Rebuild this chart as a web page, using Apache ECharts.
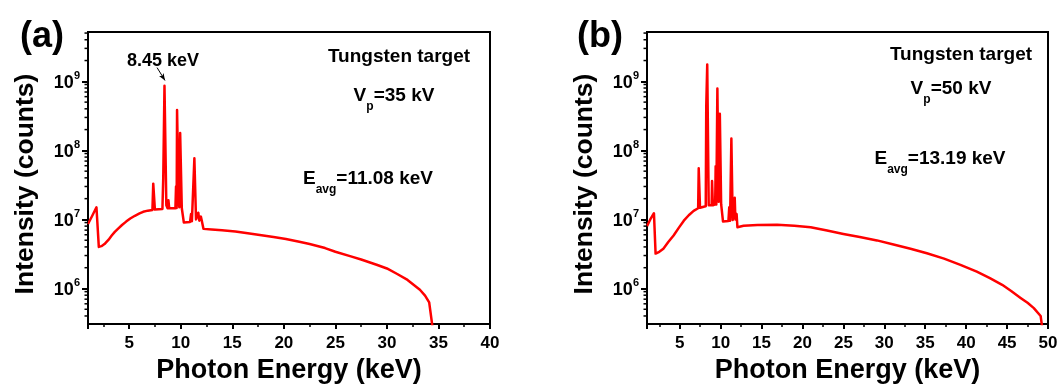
<!DOCTYPE html>
<html><head><meta charset="utf-8">
<script src="https://cdn.jsdelivr.net/npm/echarts@6/dist/echarts.min.js"></script>
<style>html,body{margin:0;padding:0;background:#fff}#c{width:1062px;height:389px}</style>
</head><body><div id="c"></div>
<script>
// Panel (a): 35 kV spectrum
const energyA = [1.0,1.4,1.82,2.05,2.3,2.6,3.0,3.3,3.6,3.9,4.3,4.7,5.1,5.55,6.0,6.35,6.8,7.25,7.33,7.41,7.49,8.22,8.3,8.38,8.42,8.52,8.6,8.72,8.8,8.88,9.48,9.54,9.6,9.64,9.72,9.8,9.86,9.94,10.02,10.1,10.2,10.3,10.9,11.0,11.08,11.24,11.32,11.4,11.48,11.6,11.7,11.8,11.95,12.05,12.2,13.0,14.0,15.3,16.5,17.5,19.0,20.2,21.5,22.5,24.0,25.0,26.5,27.5,29.0,30.0,31.0,32.0,33.2,33.7,34.1,34.55];
const countsA = [8.6e6,1.12e7,1.5e7,4.0e6,4.1e6,4.4e6,5.1e6,5.85e6,6.6e6,7.3e6,8.3e6,9.3e6,1.03e7,1.13e7,1.22e7,1.29e7,1.34e7,1.37e7,3.3e7,3.2e7,1.39e7,1.42e7,4.0e7,3.8e7,8.6e8,8.4e8,1.6e7,1.45e7,1.9e7,1.45e7,1.45e7,3.0e7,1.46e7,3.85e8,3.7e8,1.8e7,1.5e7,1.79e8,1.7e8,1.45e7,1.44e7,9.0e6,9.2e6,1.2e7,9.4e6,9.5e6,7.7e7,7.4e7,1.0e7,1.0e7,1.25e7,9.6e6,1.1e7,9.4e6,7.3e6,7.15e6,6.95e6,6.7e6,6.3e6,6.0e6,5.57e6,5.2e6,4.75e6,4.4e6,3.85e6,3.4e6,2.92e6,2.63e6,2.21e6,1.95e6,1.62e6,1.33e6,9.6e5,7.9e5,6.3e5,2.0e5];
// Panel (b): 50 kV spectrum
const energyB = [1.0,1.4,1.85,2.05,2.5,3.0,3.6,4.25,4.9,5.5,6.1,6.7,7.25,7.32,7.4,7.48,7.93,8.18,8.24,8.32,8.36,8.46,8.54,8.9,8.95,9.05,9.33,9.39,9.47,9.6,9.68,9.76,9.9,9.98,10.06,10.2,10.29,10.95,11.05,11.15,11.27,11.31,11.39,11.47,11.65,11.72,11.8,11.95,12.05,12.8,14.5,16.9,19.0,21.0,23.0,25.0,27.0,29.1,31.0,33.2,35.2,37.3,39.3,41.3,42.9,44.4,45.5,46.65,47.5,48.27,49.1,49.45];
const countsB = [8.0e6,1.0e7,1.23e7,3.2e6,3.4e6,3.77e6,4.7e6,5.85e6,7.6e6,9.6e6,1.15e7,1.33e7,1.45e7,5.5e7,5.3e7,1.48e7,1.53e7,1.55e7,4.4e8,4.3e8,1.75e9,1.7e9,1.6e7,1.6e7,3.6e7,1.6e7,1.65e7,5.9e7,1.65e7,7.9e8,7.7e8,1.8e7,3.4e8,3.3e8,1.66e7,1.66e7,9.3e6,9.5e6,1.5e7,9.6e6,9.6e6,1.48e8,1.45e8,9.8e6,1.0e7,2.06e7,1.0e7,1.2e7,7.7e6,8.1e6,8.3e6,8.4e6,8.1e6,7.7e6,6.9e6,6.17e6,5.55e6,4.97e6,4.37e6,3.77e6,3.24e6,2.71e6,2.2e6,1.75e6,1.41e6,1.13e6,9.2e5,7.3e5,6.2e5,5.2e5,4.0e5,2.0e5];
// Axis ranges
const xRangeA = [1, 40];
const xRangeB = [1, 50];
const yRange = [3.06e5, 5.18e9];
// Log minor tick values on the intensity axis
const yMinorTicks = [4e5,5e5,6e5,7e5,8e5,9e5,2e6,3e6,4e6,5e6,6e6,7e6,8e6,9e6,2e7,3e7,4e7,5e7,6e7,7e7,8e7,9e7,2e8,3e8,4e8,5e8,6e8,7e8,8e8,9e8,2e9,3e9,4e9,5e9];
// Texts
const panelLabels = ['(a)', '(b)'];
const targetText = 'Tungsten target';
const voltages = ['35 kV', '50 kV'];
const avgEnergies = ['11.08 keV', '13.19 keV'];
const peakLabel = '8.45 keV';
const peakArrow = [[7.7, 1.58e9], [8.47, 1.03e9]];
const xTitle = 'Photon Energy (keV)';
const yTitle = 'Intensity (counts)';

const FF = '"Liberation Sans", Arial, Helvetica, sans-serif';
const chart = echarts.init(document.getElementById('c'), null, {renderer: 'canvas'});

function xAxisCfg(idx, range, split) {
  return {
    type: 'value', gridIndex: idx, min: range[0], max: range[1], splitNumber: split,
    name: xTitle, nameLocation: 'middle', nameGap: 33,
    nameTextStyle: {fontFamily: FF, fontWeight: 'bold', fontSize: 27, color: '#000'},
    axisLine: {show: true, onZero: false, lineStyle: {color: '#000', width: 2}},
    axisTick: {show: true, inside: false, length: 5, lineStyle: {color: '#000', width: 2}},
    minorTick: {show: true, splitNumber: 2, length: 3, lineStyle: {color: '#000', width: 1.5}},
    axisLabel: {fontFamily: FF, fontWeight: 'bold', fontSize: 17, color: '#000', margin: 11, showMinLabel: false},
    splitLine: {show: false}
  };
}
function yAxisCfg(idx) {
  return {
    type: 'log', logBase: 10, gridIndex: idx, min: yRange[0], max: yRange[1],
    name: yTitle, nameLocation: 'middle', nameGap: 49,
    nameTextStyle: {fontFamily: FF, fontWeight: 'bold', fontSize: 26.5, color: '#000', padding: [0, 12, 0, 0]},
    axisLine: {show: true, lineStyle: {color: '#000', width: 2}},
    axisTick: {show: true, inside: false, length: 6, lineStyle: {color: '#000', width: 2}},
    minorTick: {show: false},
    splitLine: {show: false},
    axisLabel: {
      margin: 8, showMinLabel: false, showMaxLabel: false,
      formatter: function (v) {
        const l = Math.log10(v), e = Math.round(l);
        return Math.abs(l - e) < 1e-6 ? '{b|10}{s|' + e + '}' : '';
      },
      rich: {
        b: {fontFamily: FF, fontWeight: 'bold', fontSize: 18, color: '#000', lineHeight: 22, verticalAlign: 'bottom'},
        s: {fontFamily: FF, fontWeight: 'bold', fontSize: 11, color: '#000', lineHeight: 12, verticalAlign: 'top'}
      }
    }
  };
}
function minorTickSeries(idx, xmin) {
  return {
    type: 'custom', xAxisIndex: idx, yAxisIndex: idx, silent: true, clip: false, z: 5,
    data: yMinorTicks.map(v => [xmin, v]),
    encode: {x: 0, y: 1},
    renderItem: function (params, api) {
      const p = api.coord([api.value(0), api.value(1)]);
      return {type: 'line', shape: {x1: p[0] - 3.5, y1: p[1], x2: p[0], y2: p[1]}, style: {stroke: '#000', lineWidth: 1.5}};
    }
  };
}
function richSub(main, sub, rest) {
  return '{m|' + main + '}{s|' + sub + '}{m|' + rest + '}';
}
const subRich = {
  m: {fontFamily: FF, fontWeight: 'bold', fontSize: 19, fill: '#000', lineHeight: 20, verticalAlign: 'top'},
  s: {fontFamily: FF, fontWeight: 'bold', fontSize: 12, fill: '#000', lineHeight: 12, padding: [15, 0, 0, 0], verticalAlign: 'top'}
};
function txt(x, y, text, size, align) {
  return {type: 'text', x: x, y: y, silent: true,
    style: {text: text, font: 'bold ' + size + 'px ' + FF, fill: '#000', textAlign: align || 'center', textVerticalAlign: 'middle'}};
}
function subTxt(x, y, text) {
  return {type: 'text', x: x, y: y, silent: true,
    style: {text: text, rich: subRich, textAlign: 'center', textVerticalAlign: 'top', fill: '#000'}};
}
function spectrum(idx, xs, ys) {
  return {
    type: 'line', xAxisIndex: idx, yAxisIndex: idx, showSymbol: false, clip: true,
    data: xs.map((e, i) => [e, ys[i]]),
    lineStyle: {color: '#ff0000', width: 2.5, join: 'round'}, itemStyle: {color: '#ff0000'}
  };
}

const seriesA = spectrum(0, energyA, countsA);
seriesA.markLine = {
  silent: true, symbol: ['none', 'arrow'], symbolSize: [4, 7],
  label: {show: false},
  lineStyle: {color: '#000', width: 1, type: 'solid'},
  data: [[{coord: peakArrow[0]}, {coord: peakArrow[1]}]]
};

const option = {
  animation: false,
  backgroundColor: '#fff',
  grid: [
    {left: 88, top: 32, right: 572, bottom: 61, show: true, borderColor: '#000', borderWidth: 2, backgroundColor: 'transparent'},
    {left: 647, top: 32, right: 14, bottom: 61, show: true, borderColor: '#000', borderWidth: 2, backgroundColor: 'transparent'}
  ],
  xAxis: [xAxisCfg(0, xRangeA, 8), xAxisCfg(1, xRangeB, 10)],
  yAxis: [yAxisCfg(0), yAxisCfg(1)],
  series: [
    seriesA,
    spectrum(1, energyB, countsB),
    minorTickSeries(0, xRangeA[0]),
    minorTickSeries(1, xRangeB[0])
  ],
  graphic: [
    txt(20, 37, panelLabels[0], 36, 'left'),
    txt(577, 37, panelLabels[1], 36, 'left'),
    txt(163, 61, peakLabel, 18),
    txt(399, 57, targetText, 19),
    txt(961, 55, targetText, 19),
    subTxt(394, 86, richSub('V', 'p', '=' + voltages[0])),
    subTxt(951, 79, richSub('V', 'p', '=' + voltages[1])),
    subTxt(368, 169, richSub('E', 'avg', '=' + avgEnergies[0])),
    subTxt(940, 149, richSub('E', 'avg', '=' + avgEnergies[1]))
  ]
};
chart.setOption(option);
</script>
</body></html>
